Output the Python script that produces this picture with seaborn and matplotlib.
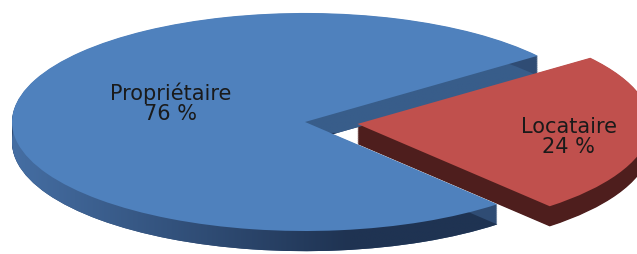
import matplotlib
matplotlib.use('Agg')
import matplotlib.pyplot as plt
import seaborn as sns
import numpy as np

# Data
categories = ['Propriétaire', 'Locataire']
shares = [76, 24]

sns.set_theme(style='white')
plt.rcParams['font.family'] = ['DejaVu Sans']

top_colors = ['#4F81BD', '#C0504D']
side_colors = ['#2F4C74', '#4E1E1D']
explode = [0, 0.18]
start = -49
depth = 0.185

fig = plt.figure(figsize=(6.37, 2.55), dpi=100)
ax = fig.add_axes([0, 0, 1, 1])

# side walls: stack of pies shifted downwards
bottom_wedges = None
for k in np.linspace(depth, 0.005, 30):
    wedges, _ = ax.pie(shares, colors=side_colors, explode=explode, startangle=start,
                       counterclock=False, center=(0, -k),
                       wedgeprops=dict(linewidth=0, zorder=1))
    if bottom_wedges is None:
        bottom_wedges = wedges

# shading on the blue side wall (lighter at the left, dark at the front)
xs = np.linspace(-1.1, 1.2, 300)
ys = np.linspace(-1.3, 1.2, 200)
X, Y = np.meshgrid(xs, ys)
light = np.array([0x45, 0x6E, 0xA3]) / 255
dark = np.array([0x1F, 0x33, 0x52]) / 255
notch = np.array([0x38, 0x5D, 0x8A]) / 255
t = np.clip((X + 1.0) / 1.15, 0, 1)[..., None]
img = light * (1 - t) + dark * t
mask = (Y > -0.1) & (X > -0.2)
img[mask] = notch
im = ax.imshow(img, extent=(xs[0], xs[-1], ys[0], ys[-1]), origin='lower',
               aspect='auto', zorder=1.5)
im.set_clip_path(bottom_wedges[0])

# top faces
ax.pie(shares, colors=top_colors, explode=explode, startangle=start,
       counterclock=False, center=(0, 0),
       wedgeprops=dict(linewidth=0, zorder=2))

# labels
label_pos = [(-0.46, 0.18), (0.90, -0.13)]
for cat, val, (lx, ly) in zip(categories, shares, label_pos):
    ax.text(lx, ly, f'{cat}\n{val} %', ha='center', va='center', fontsize=15,
            color='#1A1A1A', linespacing=1.0, zorder=3)

ax.set_xlim(-1.041, 1.133)
ax.set_ylim(-1.211, 1.128)
ax.set_aspect('auto')
ax.axis('off')

fig.savefig('out.png', dpi=100, facecolor='white')
